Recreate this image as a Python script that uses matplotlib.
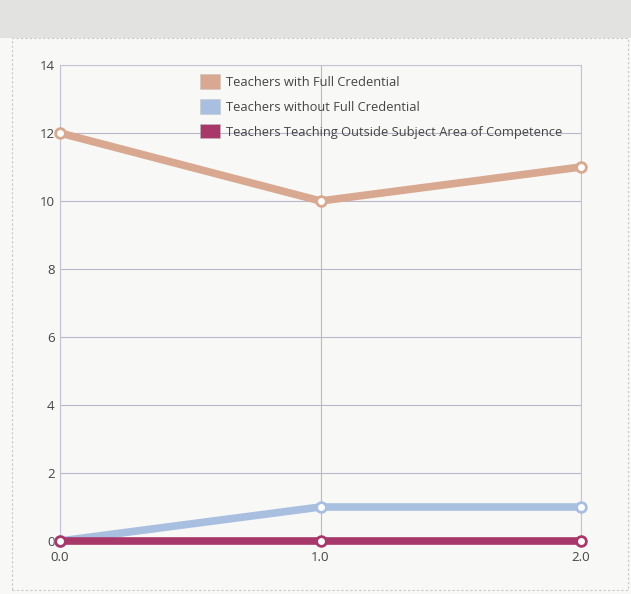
import matplotlib
matplotlib.use("Agg")
import matplotlib.pyplot as plt
from matplotlib.patches import Rectangle, Patch

x_vals = [0.0, 1.0, 2.0]
full_cred = [12, 10, 11]
without_cred = [0, 1, 1]
outside_subject = [0, 0, 0]
series_names = ["Teachers with Full Credential",
                "Teachers without Full Credential",
                "Teachers Teaching Outside Subject Area of Competence"]
colors = ["#d8a890", "#a9bfe0", "#a8386a"]
y_ticks = [0, 2, 4, 6, 8, 10, 12, 14]
x_ticks = [0.0, 1.0, 2.0]
x_tick_labels = ["0.0", "1.0", "2.0"]

plt.rcParams['font.family'] = ['Open Sans', 'DejaVu Sans']

fig = plt.figure(figsize=(6.31, 5.94), dpi=100)
fig.patch.set_facecolor("#f8f8f6")

# header band
fig.add_artist(Rectangle((0, 1 - 38/594), 1, 38/594, transform=fig.transFigure,
                         facecolor="#e2e2e0", edgecolor="none", zorder=0))
# outer dashed frame
fig.add_artist(Rectangle((12/631, 1 - 590/594), 616/631, (590 - 38)/594,
                         transform=fig.transFigure, facecolor="none",
                         edgecolor="#c8c8c8", linestyle=(0, (2, 2)), lw=0.8))

ax = fig.add_axes([60/631, 1 - 541/594, (581 - 60)/631, (541 - 65)/594])
ax.set_facecolor("none")

series = [full_cred, without_cred, outside_subject]
for vals, c in zip(series, colors):
    ax.plot(x_vals, vals, color=c, lw=5.5, solid_capstyle="round", zorder=3,
            marker="o", markersize=7, markerfacecolor="white",
            markeredgecolor=c, markeredgewidth=2, clip_on=False)

ax.set_xlim(0, 2)
ax.set_ylim(0, 14)
ax.set_yticks(y_ticks)
ax.set_xticks(x_ticks)
ax.set_xticklabels(x_tick_labels)
ax.grid(True, color="#b8b8cc", lw=0.8)
ax.set_axisbelow(True)
for s in ax.spines.values():
    s.set_color("#c4c4d4")
    s.set_linewidth(0.8)
ax.tick_params(axis="both", length=0, labelsize=9.5, colors="#444444")
ax.tick_params(axis="x", pad=7)
ax.tick_params(axis="y", pad=4)

handles = [Patch(facecolor=c, edgecolor="#c0c0c0", linestyle=(0, (1, 1)), lw=0.6)
           for c in colors]
leg = ax.legend(handles, series_names, loc="upper left",
                bbox_to_anchor=(132/521, 0.997), frameon=False,
                fontsize=9.3, handlelength=1.6, handleheight=1.35,
                labelspacing=0.8, handletextpad=0.4, borderaxespad=0.2)
for t in leg.get_texts():
    t.set_color("#444444")

fig.savefig("out.png", dpi=100, facecolor=fig.get_facecolor())
